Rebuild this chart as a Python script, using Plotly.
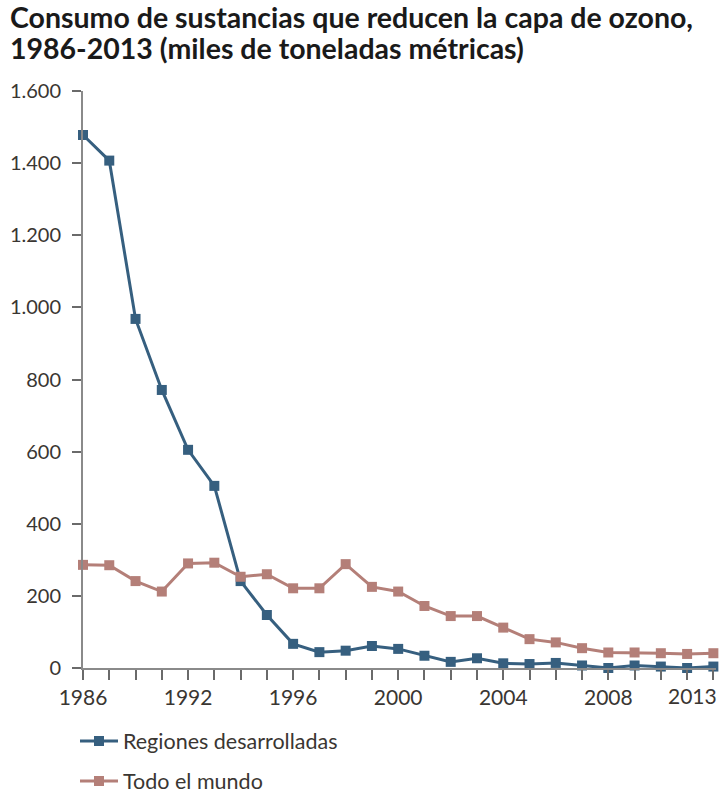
import plotly.graph_objects as go

# ---- data ----
years = [1986, 1989, 1990, 1991, 1992, 1993, 1994, 1995, 1996, 1997, 1998, 1999,
         2000, 2001, 2002, 2003, 2004, 2005, 2006, 2007, 2008, 2009, 2010, 2011, 2013]
labeled_years = [1986, 1992, 1996, 2000, 2004, 2008, 2013]

regiones_desarrolladas = [1478, 1407, 968, 771, 605, 505, 241, 147, 67, 44, 48, 61,
                          53, 34, 17, 27, 13, 11, 14, 7, 0, 7, 4, 0, 4]
todo_el_mundo = [286, 285, 241, 212, 290, 292, 253, 260, 221, 221, 288, 225,
                 212, 172, 144, 144, 112, 80, 71, 55, 43, 43, 41, 39, 41]

y_ticks = [0, 200, 400, 600, 800, 1000, 1200, 1400, 1600]
y_ticktext = ["0", "200", "400", "600", "800", "1.000", "1.200", "1.400", "1.600"]

title_lines = ["Consumo de sustancias que reducen la capa de ozono,",
               "1986-2013 (miles de toneladas métricas)"]

BLUE = "#365f7f"
PINK = "#b47f78"
FONT = "Lato"
TXT = "#3a3632"

W, H = 723, 793
ML, MR, MT, MB = 83, 7, 91, 125
PW, PH = W - ML - MR, H - MT - MB


def px_to_paper_x(px):
    return (px - ML) / PW


def px_to_paper_y(py):
    return 1 + (MT - py) / PH


idx = list(range(len(years)))
last = len(years) - 1
# the last label sits against the right edge, so it is drawn right-aligned below
ticktext = [str(y) if (y in labeled_years and i != last) else "" for i, y in enumerate(years)]

fig = go.Figure()
fig.add_trace(go.Scatter(
    x=idx, y=regiones_desarrolladas, mode="lines+markers",
    name="Regiones desarrolladas",
    line=dict(color=BLUE, width=3),
    marker=dict(symbol="square", size=10, color=BLUE),
    legend="legend", cliponaxis=False,
))
fig.add_trace(go.Scatter(
    x=idx, y=todo_el_mundo, mode="lines+markers",
    name="Todo el mundo",
    line=dict(color=PINK, width=3),
    marker=dict(symbol="square", size=10, color=PINK),
    legend="legend2", cliponaxis=False,
))

fig.add_annotation(
    text=str(years[last]), xref="x", yref="paper",
    x=idx[last], y=px_to_paper_y(695), xanchor="right", yanchor="middle", xshift=6,
    showarrow=False, font=dict(family=FONT, size=21, color=TXT),
)

for line, cy in zip(title_lines, [17.5, 48]):
    fig.add_annotation(
        text="<b>" + line + "</b>", xref="paper", yref="paper",
        x=px_to_paper_x(8), y=px_to_paper_y(cy), xanchor="left", yanchor="middle",
        showarrow=False, font=dict(family=FONT, size=28.5, color="#1a1a1a"),
    )

fig.update_layout(
    width=W, height=H,
    margin=dict(l=ML, r=MR, t=MT, b=MB, autoexpand=False),
    paper_bgcolor="white", plot_bgcolor="white",
    font=dict(family=FONT, color=TXT, size=20),
    xaxis=dict(range=[0, 24.1], tickmode="array", tickvals=idx, ticktext=ticktext,
               showline=True, linecolor="#8a8a8a", linewidth=2,
               ticks="outside", ticklen=10, tickwidth=2, tickcolor="#6a6a6a",
               showgrid=False, zeroline=False,
               tickfont=dict(family=FONT, size=21, color=TXT)),
    yaxis=dict(range=[0, 1600], tickmode="array", tickvals=y_ticks, ticktext=y_ticktext,
               showline=True, linecolor="#8a8a8a", linewidth=2,
               ticks="outside", ticklen=9, tickwidth=2, tickcolor="#6a6a6a",
               showgrid=False, zeroline=False, ticklabelstandoff=7,
               tickfont=dict(family=FONT, size=20, color=TXT)),
    legend=dict(x=px_to_paper_x(75), xanchor="left", y=px_to_paper_y(741), yanchor="middle",
                itemwidth=38,
                font=dict(family=FONT, size=21.5, color=TXT), bgcolor="rgba(0,0,0,0)"),
    legend2=dict(x=px_to_paper_x(75), xanchor="left", y=px_to_paper_y(781), yanchor="middle",
                 itemwidth=38,
                 font=dict(family=FONT, size=21.5, color=TXT), bgcolor="rgba(0,0,0,0)"),
    showlegend=True,
)

# remove the default 8px page margin so the 723x793 figure fills the window exactly
fig.write_html("out.html", config={"displayModeBar": False},
               post_script="document.body.style.margin='0px';")
